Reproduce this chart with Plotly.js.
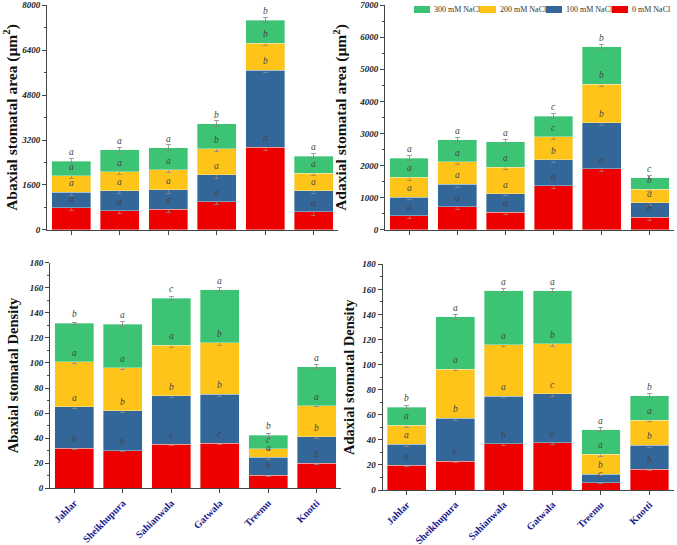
<!DOCTYPE html>
<html>
<head>
<meta charset="utf-8">
<script src="https://cdn.plot.ly/plotly-3.0.1.min.js"></script>
<style>
  body { margin: 0; background: #fff; }
  #chart { width: 677px; height: 545px; }
</style>
</head>
<body>
<div id="chart"></div>
<script>
var cultivars = ['Jahlar', 'Sheikhupura', 'Sahianwala', 'Gatwala', 'Treemu', 'Knotti'];
var treatments = ['0 mM NaCl', '100 mM NaCl', '200 mM NaCl', '300 mM NaCl'];
var colors = ['#ee0000', '#336699', '#ffc41a', '#3cc373'];

// abaxial stomatal area (um2)
var abArea0 = [790, 690, 735, 1005, 2940, 650];
var abArea100 = [545, 710, 690, 960, 2735, 745];
var abArea200 = [595, 665, 710, 925, 970, 615];
var abArea300 = [520, 795, 795, 890, 820, 615];
var abAreaErr0 = [90, 110, 100, 90, 110, 120];
var abAreaErr100 = [100, 120, 110, 120, 90, 110];
var abAreaErr200 = [90, 90, 80, 110, 70, 90];
var abAreaErr300 = [80, 90, 100, 110, 100, 90];
var abAreaLetters = [['a', 'a', 'a', 'a', 'a', 'a'], ['a', 'a', 'a', 'a', 'b', 'a'],
                     ['a', 'a', 'a', 'b', 'b', 'a'], ['a', 'a', 'a', 'b', 'b', 'a']];

// adaxial stomatal area (um2)
var adArea0 = [436, 716, 550, 1380, 1900, 394];
var adArea100 = [590, 705, 580, 810, 1430, 446];
var adArea200 = [612, 705, 820, 705, 1203, 425];
var adArea300 = [592, 684, 788, 643, 1172, 363];
var adAreaErr0 = [90, 80, 80, 90, 80, 100];
var adAreaErr100 = [80, 100, 70, 100, 70, 70];
var adAreaErr200 = [100, 80, 80, 90, 60, 60];
var adAreaErr300 = [80, 80, 90, 80, 80, 60];
var adAreaLetters = [['a', 'a', 'a', 'a', 'a', 'b'], ['a', 'a', 'a', 'b', 'b', 'a'],
                     ['a', 'a', 'a', 'c', 'b', 'b'], ['a', 'a', 'a', 'c', 'b', 'c']];

// abaxial stomatal density
var abDen0 = [32, 30, 35, 36, 10.6, 20];
var abDen100 = [33, 32, 39, 39, 14, 21];
var abDen200 = [36, 34, 40, 41, 7, 25];
var abDen300 = [30.6, 35, 37.5, 42.5, 10.7, 31];
var abDenErr0 = [1.2, 1, 1.2, 1, 1, 1.2];
var abDenErr100 = [1.5, 1.5, 1.5, 1.5, 1.5, 1.2];
var abDenErr200 = [1.8, 1.2, 1.5, 1.8, 1, 1];
var abDenErr300 = [1, 1.8, 1.5, 1.8, 1.5, 1.5];
var abDenLetters = [['b', 'b', 'c', 'c', 'b', 'b'], ['a', 'b', 'b', 'b', 'a', 'b'],
                    ['a', 'a', 'a', 'b', 'c', 'a'], ['b', 'a', 'c', 'a', 'b', 'a']];

// adaxial stomatal density
var adDen0 = [19.7, 23.1, 36.7, 37.5, 5.6, 16.5];
var adDen100 = [16.7, 34.3, 38, 39.1, 6.9, 19.1];
var adDen200 = [15.2, 39.1, 41, 39.9, 16.2, 20.2];
var adDen300 = [14.6, 41.5, 43.3, 42.5, 19.4, 19.4];
var adDenErr0 = [1.2, 1, 1, 1, 0.8, 1.2];
var adDenErr100 = [1.5, 1.8, 1.2, 2, 1, 1.5];
var adDenErr200 = [1.5, 1.5, 1.5, 1.8, 1.8, 1.2];
var adDenErr300 = [1.2, 2, 1.5, 1.8, 1.8, 1.8];
var adDenLetters = [['a', 'c', 'b', 'c', 'c', 'b'], ['a', 'b', 'a', 'c', 'b', 'b'],
                    ['a', 'a', 'a', 'b', 'a', 'a'], ['b', 'a', 'a', 'a', 'a', 'b']];

var panels = [
    {xa: 'x', ya: 'y', vals: [abArea0, abArea100, abArea200, abArea300],
     errs: [abAreaErr0, abAreaErr100, abAreaErr200, abAreaErr300], letters: abAreaLetters},
    {xa: 'x2', ya: 'y2', vals: [adArea0, adArea100, adArea200, adArea300],
     errs: [adAreaErr0, adAreaErr100, adAreaErr200, adAreaErr300], letters: adAreaLetters},
    {xa: 'x3', ya: 'y3', vals: [abDen0, abDen100, abDen200, abDen300],
     errs: [abDenErr0, abDenErr100, abDenErr200, abDenErr300], letters: abDenLetters},
    {xa: 'x4', ya: 'y4', vals: [adDen0, adDen100, adDen200, adDen300],
     errs: [adDenErr0, adDenErr100, adDenErr200, adDenErr300], letters: adDenLetters}
];

var data = [];
var annotations = [];
var shapes = [];

panels.forEach(function (p) {
    var cum = cultivars.map(function () { return 0; });
    for (var k = 0; k < 4; k++) {
        data.push({
            x: cultivars,
            y: p.vals[k],
            type: 'bar',
            name: treatments[k],
            xaxis: p.xa,
            yaxis: p.ya,
            showlegend: false,
            marker: {color: colors[k], line: {color: 'rgba(230,245,235,0.8)', width: 0.5}},
            error_y: {type: 'data', array: p.errs[k], color: '#888', thickness: 0.8, width: 2.5},
            hoverinfo: 'y+name'
        });
        for (var i = 0; i < cultivars.length; i++) {
            cum[i] += p.vals[k][i];
            annotations.push({
                x: cultivars[i],
                y: cum[i],
                xref: p.xa,
                yref: p.ya,
                text: p.letters[k][i],
                showarrow: false,
                yshift: 9,
                font: {family: 'Liberation Serif', size: 9.5, color: '#444', style: 'italic'}
            });
        }
    }
});

// legend row at the top of the right-hand panel (300 mM first)
var W = 677, H = 545;
for (var j = 0; j < 4; j++) {
    var k = 3 - j;
    var x0 = 414 + j * 66;
    shapes.push({
        type: 'rect', xref: 'paper', yref: 'paper',
        x0: x0 / W, x1: (x0 + 16) / W, y0: 1 - 13 / H, y1: 1 - 6 / H,
        fillcolor: colors[k], line: {width: 0}
    });
    annotations.push({
        xref: 'paper', yref: 'paper',
        x: (x0 + 18) / W, y: 1 - 9.5 / H,
        xanchor: 'left', yanchor: 'middle',
        text: treatments[k],
        showarrow: false,
        font: {family: 'Liberation Serif', size: 8, color: '#333'}
    });
}

var tickFont = {family: 'Liberation Serif', size: 9, color: '#222', weight: 'bold', style: 'italic'};

function xAxis(domain, anchor, showLabels) {
    return {
        domain: domain,
        anchor: anchor,
        type: 'category',
        range: [-0.5, 5.5],
        showline: true,
        linecolor: '#444',
        linewidth: 1,
        ticks: 'outside',
        ticklen: 4,
        tickcolor: '#444',
        showticklabels: showLabels,
        tickangle: -45,
        tickfont: {family: 'Liberation Serif', size: 10, color: '#1c1c8c', weight: 'bold'},
        showgrid: false,
        zeroline: false,
        fixedrange: true
    };
}

function yAxis(domain, anchor, range, dtick, title, size, standoff) {
    return {
        domain: domain,
        anchor: anchor,
        range: range,
        dtick: dtick,
        showline: true,
        linecolor: '#444',
        linewidth: 1,
        ticks: 'outside',
        ticklen: 4,
        tickcolor: '#444',
        minor: {dtick: dtick / 2, ticks: 'outside', ticklen: 2, tickcolor: '#444'},
        tickfont: tickFont,
        showgrid: false,
        zeroline: false,
        title: {text: title, font: {family: 'Liberation Serif', size: size, color: '#111', weight: 'bold'}, standoff: standoff},
        fixedrange: true
    };
}

var layout = {
    width: W,
    height: H,
    margin: {l: 0, r: 0, t: 0, b: 0},
    paper_bgcolor: '#fff',
    plot_bgcolor: '#fff',
    barmode: 'stack',
    bargap: 0.2,
    showlegend: false,
    xaxis: xAxis([0.0694, 0.4993], 'y', false),
    yaxis: yAxis([0.578, 0.9908], 'x', [0, 8000], 1600, 'Abaxial stomatal area (µm<sup>2</sup>)', 15.5, 10),
    xaxis2: xAxis([0.5687, 0.9956], 'y2', false),
    yaxis2: yAxis([0.578, 0.9908], 'x2', [0, 7000], 1000, 'Adaxial stomatal area (µm<sup>2</sup>)', 15.5, 8),
    xaxis3: xAxis([0.0739, 0.5037], 'y3', true),
    yaxis3: yAxis([0.104, 0.518], 'x3', [0, 180], 20, 'Abaxial stomatal Density', 14.5, 7),
    xaxis4: xAxis([0.565, 0.9953], 'y4', true),
    yaxis4: yAxis([0.1009, 0.515], 'x4', [0, 180], 20, 'Adaxial stomatal Density', 14.5, 4),
    shapes: shapes,
    annotations: annotations
};

Plotly.newPlot('chart', data, layout, {displayModeBar: false, staticPlot: true});
</script>
</body>
</html>
